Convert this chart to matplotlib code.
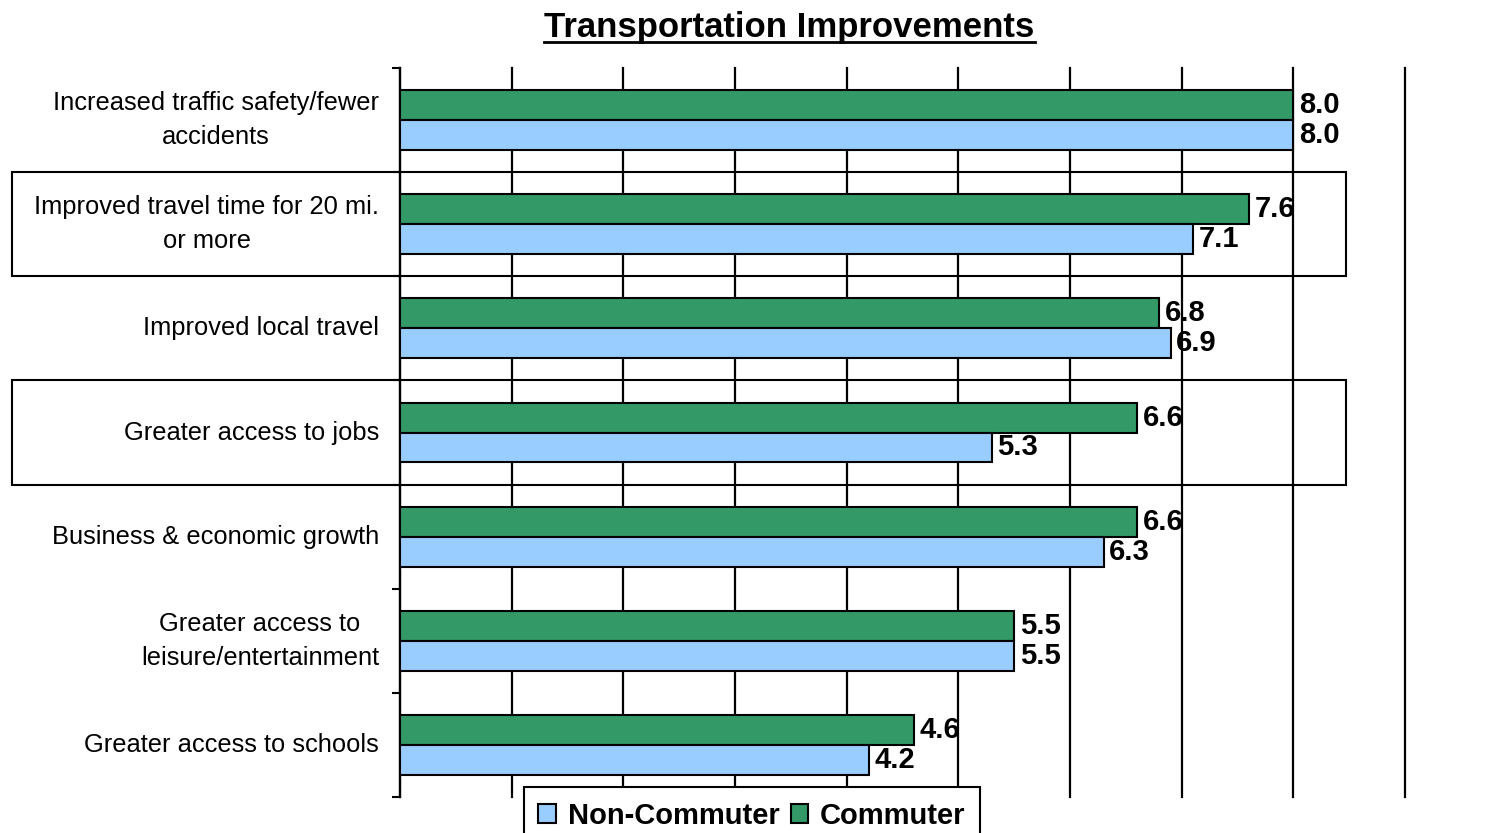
import matplotlib.pyplot as plt
import matplotlib.patches as patches
import numpy as np

plt.rcParams['font.family'] = ['Liberation Sans', 'DejaVu Sans']

# data
categories = ['Increased traffic safety/fewer\naccidents',
              'Improved travel time for 20 mi.\nor more',
              'Improved local travel',
              'Greater access to jobs',
              'Business & economic growth',
              'Greater access to\nleisure/entertainment',
              'Greater access to schools']
commuter = [8.0, 7.6, 6.8, 6.6, 6.6, 5.5, 4.6]
non_commuter = [8.0, 7.1, 6.9, 5.3, 6.3, 5.5, 4.2]
boxed = [1, 3]  # categories with a frame round the label

green = '#339966'
blue = '#99CCFF'

fig = plt.figure(figsize=(15.04, 8.33), dpi=100)
ax = fig.add_axes([400/1504, 1-797/833, 1005/1504, 729/833])

y = np.arange(len(categories))
h = 0.288
ax.barh(y - h/2, commuter, height=h, color=green, edgecolor='black', linewidth=1.5,
        label='Commuter', zorder=3)
ax.barh(y + h/2, non_commuter, height=h, color=blue, edgecolor='black', linewidth=1.5,
        label='Non-Commuter', zorder=3)

for i in range(len(categories)):
    ax.text(commuter[i] + 0.05, y[i] - h/2, f'{commuter[i]:.1f}', va='center', ha='left',
            fontsize=21, fontweight='bold', zorder=4)
    ax.text(non_commuter[i] + 0.05, y[i] + h/2, f'{non_commuter[i]:.1f}', va='center', ha='left',
            fontsize=21, fontweight='bold', zorder=4)

ax.set_xlim(0, 9)
ax.set_ylim(len(categories) - 0.5, -0.5)
ax.set_xticks(range(10))
ax.tick_params(axis='x', length=0, labelbottom=False)
ax.grid(axis='x', color='black', linewidth=1.6, zorder=0)
for gl in ax.get_xgridlines():
    gl.set_clip_on(False)

ax.set_yticks(y)
ax.set_yticklabels(categories, fontsize=18.4, multialignment='center', linespacing=1.5)
for lbl in ax.get_yticklabels():
    lbl.set_va('center')
ax.set_yticks(np.arange(-0.5, len(categories)), minor=True)
ax.tick_params(axis='y', which='major', length=0, pad=15)
ax.tick_params(axis='y', which='minor', length=6, width=1.5, direction='out')

for s in ['top', 'right', 'bottom']:
    ax.spines[s].set_visible(False)
ax.spines['left'].set_linewidth(1.6)

# frames round some labels
for i in boxed:
    r = patches.Rectangle((-3.474, i - 0.5), 8.47 + 3.474, 1.0, fill=False,
                          edgecolor='black', linewidth=1.5, clip_on=False, zorder=5)
    ax.add_patch(r)

# title with underline
t = fig.text(0.525, 1-27/833, 'Transportation Improvements', ha='center', va='center',
             fontsize=25, fontweight='bold')
fig.canvas.draw()
bb = t.get_window_extent().transformed(fig.transFigure.inverted())
fig.add_artist(plt.Line2D([bb.x0, bb.x1], [bb.y0 + 0.002, bb.y0 + 0.002],
                          transform=fig.transFigure, color='black', linewidth=2))

handles, labels = ax.get_legend_handles_labels()
leg = fig.legend(handles[::-1], labels[::-1], loc='upper center', bbox_to_anchor=(0.5, 1-787/833),
                 ncol=2, fancybox=False, edgecolor='black', framealpha=1,
                 prop={'size': 21, 'weight': 'bold'}, handlelength=0.6, handleheight=0.6,
                 handletextpad=0.4, columnspacing=0.4, borderpad=0.5, borderaxespad=0)
leg.get_frame().set_linewidth(1.5)

fig.savefig('out.png', dpi=100)
